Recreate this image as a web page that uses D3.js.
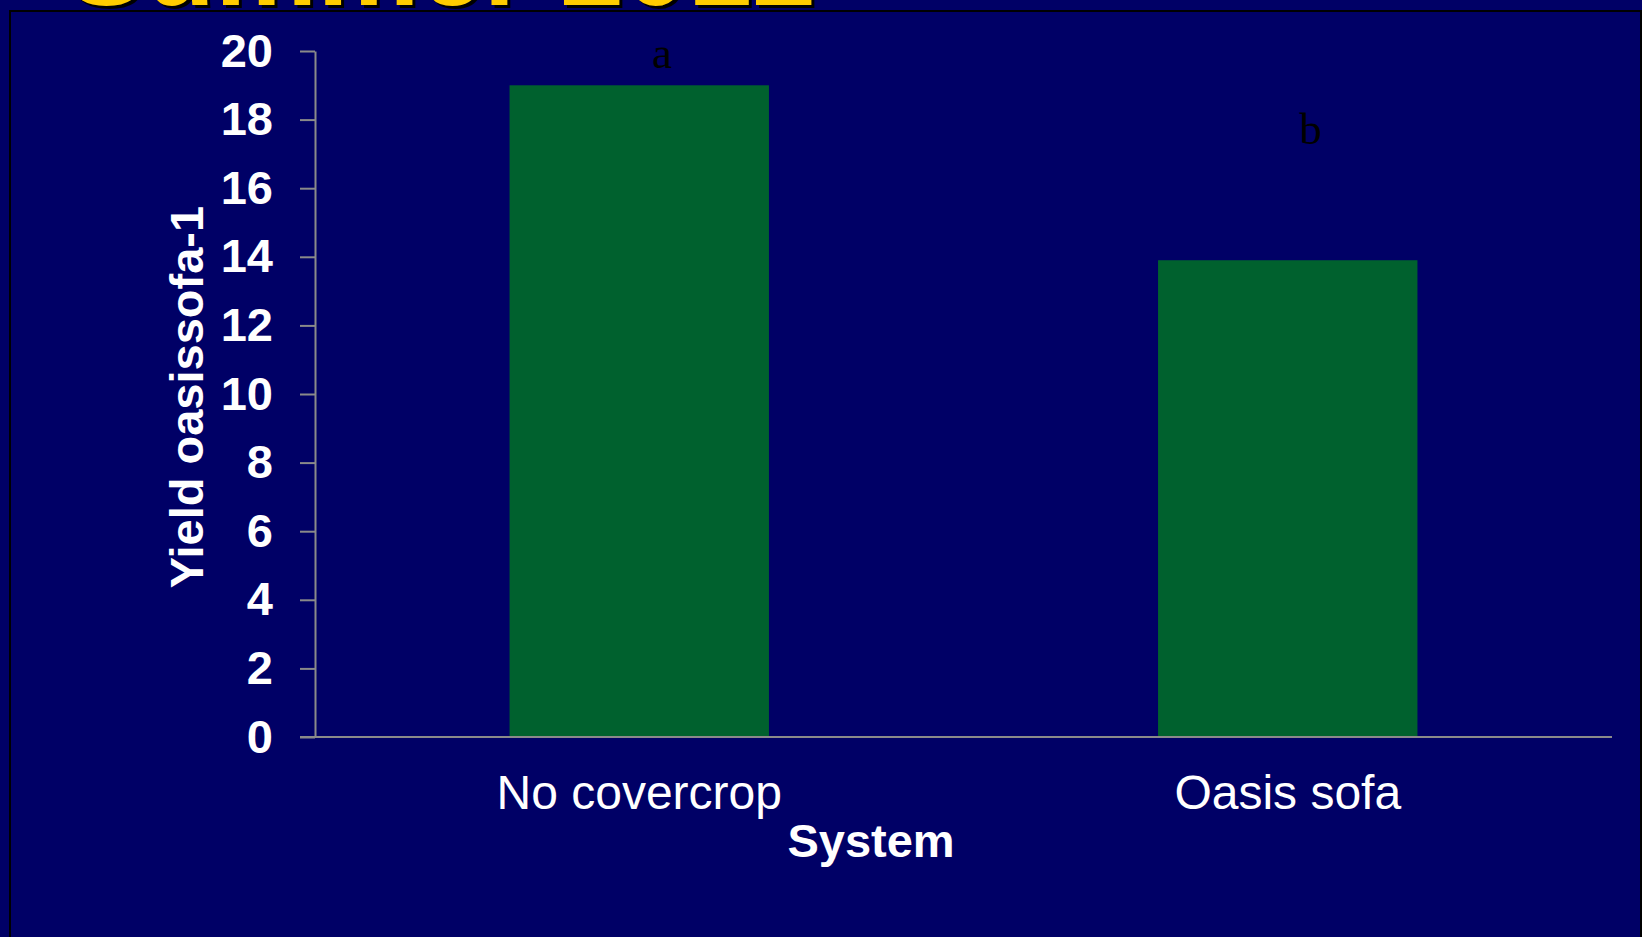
<!DOCTYPE html>
<html>
<head>
<meta charset="utf-8">
<script src="https://cdn.jsdelivr.net/npm/d3@7"></script>
<style>
  html, body { margin: 0; padding: 0; background: #000066; }
  svg { display: block; }
</style>
</head>
<body>
<svg id="chart" width="1642" height="937"></svg>
<script>
// ---- data ----
const categories = ["No covercrop", "Oasis sofa"];
const yieldValues = [19.0, 13.9];
const sigLetters = ["a", "b"];
const sigLetterLevels = [19.5, 17.3];   // height (in y units) of the letter baselines
const yTicks = [0, 2, 4, 6, 8, 10, 12, 14, 16, 18, 20];
const titleText = "Summer 2012";
const yLabel = "Yield oasissofa-1";
const xLabel = "System";

// ---- layout ----
const W = 1642, H = 937;
const svg = d3.select("#chart");
const sans = "'Liberation Sans', Arial, Helvetica, sans-serif";
const serif = "'Liberation Serif', 'Times New Roman', Times, serif";

svg.append("rect").attr("width", W).attr("height", H).attr("fill", "#000066");

// title (cut off at the top)
svg.append("text")
  .attr("x", 71).attr("y", 8)
  .attr("font-family", sans).attr("font-weight", "bold").attr("font-size", 115)
  .attr("fill", "#000000").text(titleText);
svg.append("text")
  .attr("x", 68).attr("y", 5)
  .attr("font-family", sans).attr("font-weight", "bold").attr("font-size", 115)
  .attr("fill", "#FFCC00").text(titleText);

// chart frame
svg.append("rect")
  .attr("x", 10).attr("y", 11).attr("width", 1631).attr("height", 940)
  .attr("fill", "#000066").attr("stroke", "#000000").attr("stroke-width", 2);

const y = d3.scaleLinear().domain([0, 20]).range([737, 51]);
const x = d3.scaleBand().domain(categories).range([315, 1612])
  .paddingInner(0.6).paddingOuter(0.3);

const axisColor = "#8a8a8a";

// bars
svg.append("g").selectAll("rect").data(categories).join("rect")
  .attr("x", d => x(d))
  .attr("width", x.bandwidth())
  .attr("y", (d, i) => y(yieldValues[i]))
  .attr("height", (d, i) => y(0) - y(yieldValues[i]))
  .attr("fill", "#00612E");

// y axis
const yAxis = svg.append("g").attr("transform", "translate(315,0)")
  .call(d3.axisLeft(y).tickValues(yTicks).tickSize(15).tickSizeOuter(0).tickPadding(27));
yAxis.select(".domain").attr("stroke", axisColor).attr("stroke-width", 2);
yAxis.selectAll(".tick line").attr("stroke", axisColor).attr("stroke-width", 2);
yAxis.selectAll(".tick text")
  .attr("fill", "#ffffff").attr("font-family", sans).attr("font-weight", "bold")
  .attr("font-size", 47);

// x baseline
svg.append("line")
  .attr("x1", 300).attr("x2", 1612).attr("y1", y(0)).attr("y2", y(0))
  .attr("stroke", axisColor).attr("stroke-width", 2);

// x axis labels
const xAxis = svg.append("g").attr("transform", `translate(0,${y(0)})`)
  .call(d3.axisBottom(x).tickSize(0).tickPadding(38));
xAxis.select(".domain").remove();
xAxis.selectAll(".tick text")
  .attr("fill", "#ffffff").attr("font-family", sans).attr("font-size", 48);

// significance letters
svg.append("g").selectAll("text").data(categories).join("text")
  .attr("x", d => x(d) + x.bandwidth() / 2 + 0.035 * x.step())
  .attr("y", (d, i) => y(sigLetterLevels[i]))
  .attr("text-anchor", "middle")
  .attr("font-family", serif).attr("font-size", 45).attr("fill", "#000000")
  .text((d, i) => sigLetters[i]);

// axis titles
svg.append("text")
  .attr("transform", "translate(203,397) rotate(-90)")
  .attr("text-anchor", "middle")
  .attr("font-family", sans).attr("font-weight", "bold").attr("font-size", 47)
  .attr("fill", "#ffffff").text(yLabel);

svg.append("text")
  .attr("x", 871).attr("y", 857)
  .attr("text-anchor", "middle")
  .attr("font-family", sans).attr("font-weight", "bold").attr("font-size", 47)
  .attr("fill", "#ffffff").text(xLabel);
</script>
</body>
</html>
